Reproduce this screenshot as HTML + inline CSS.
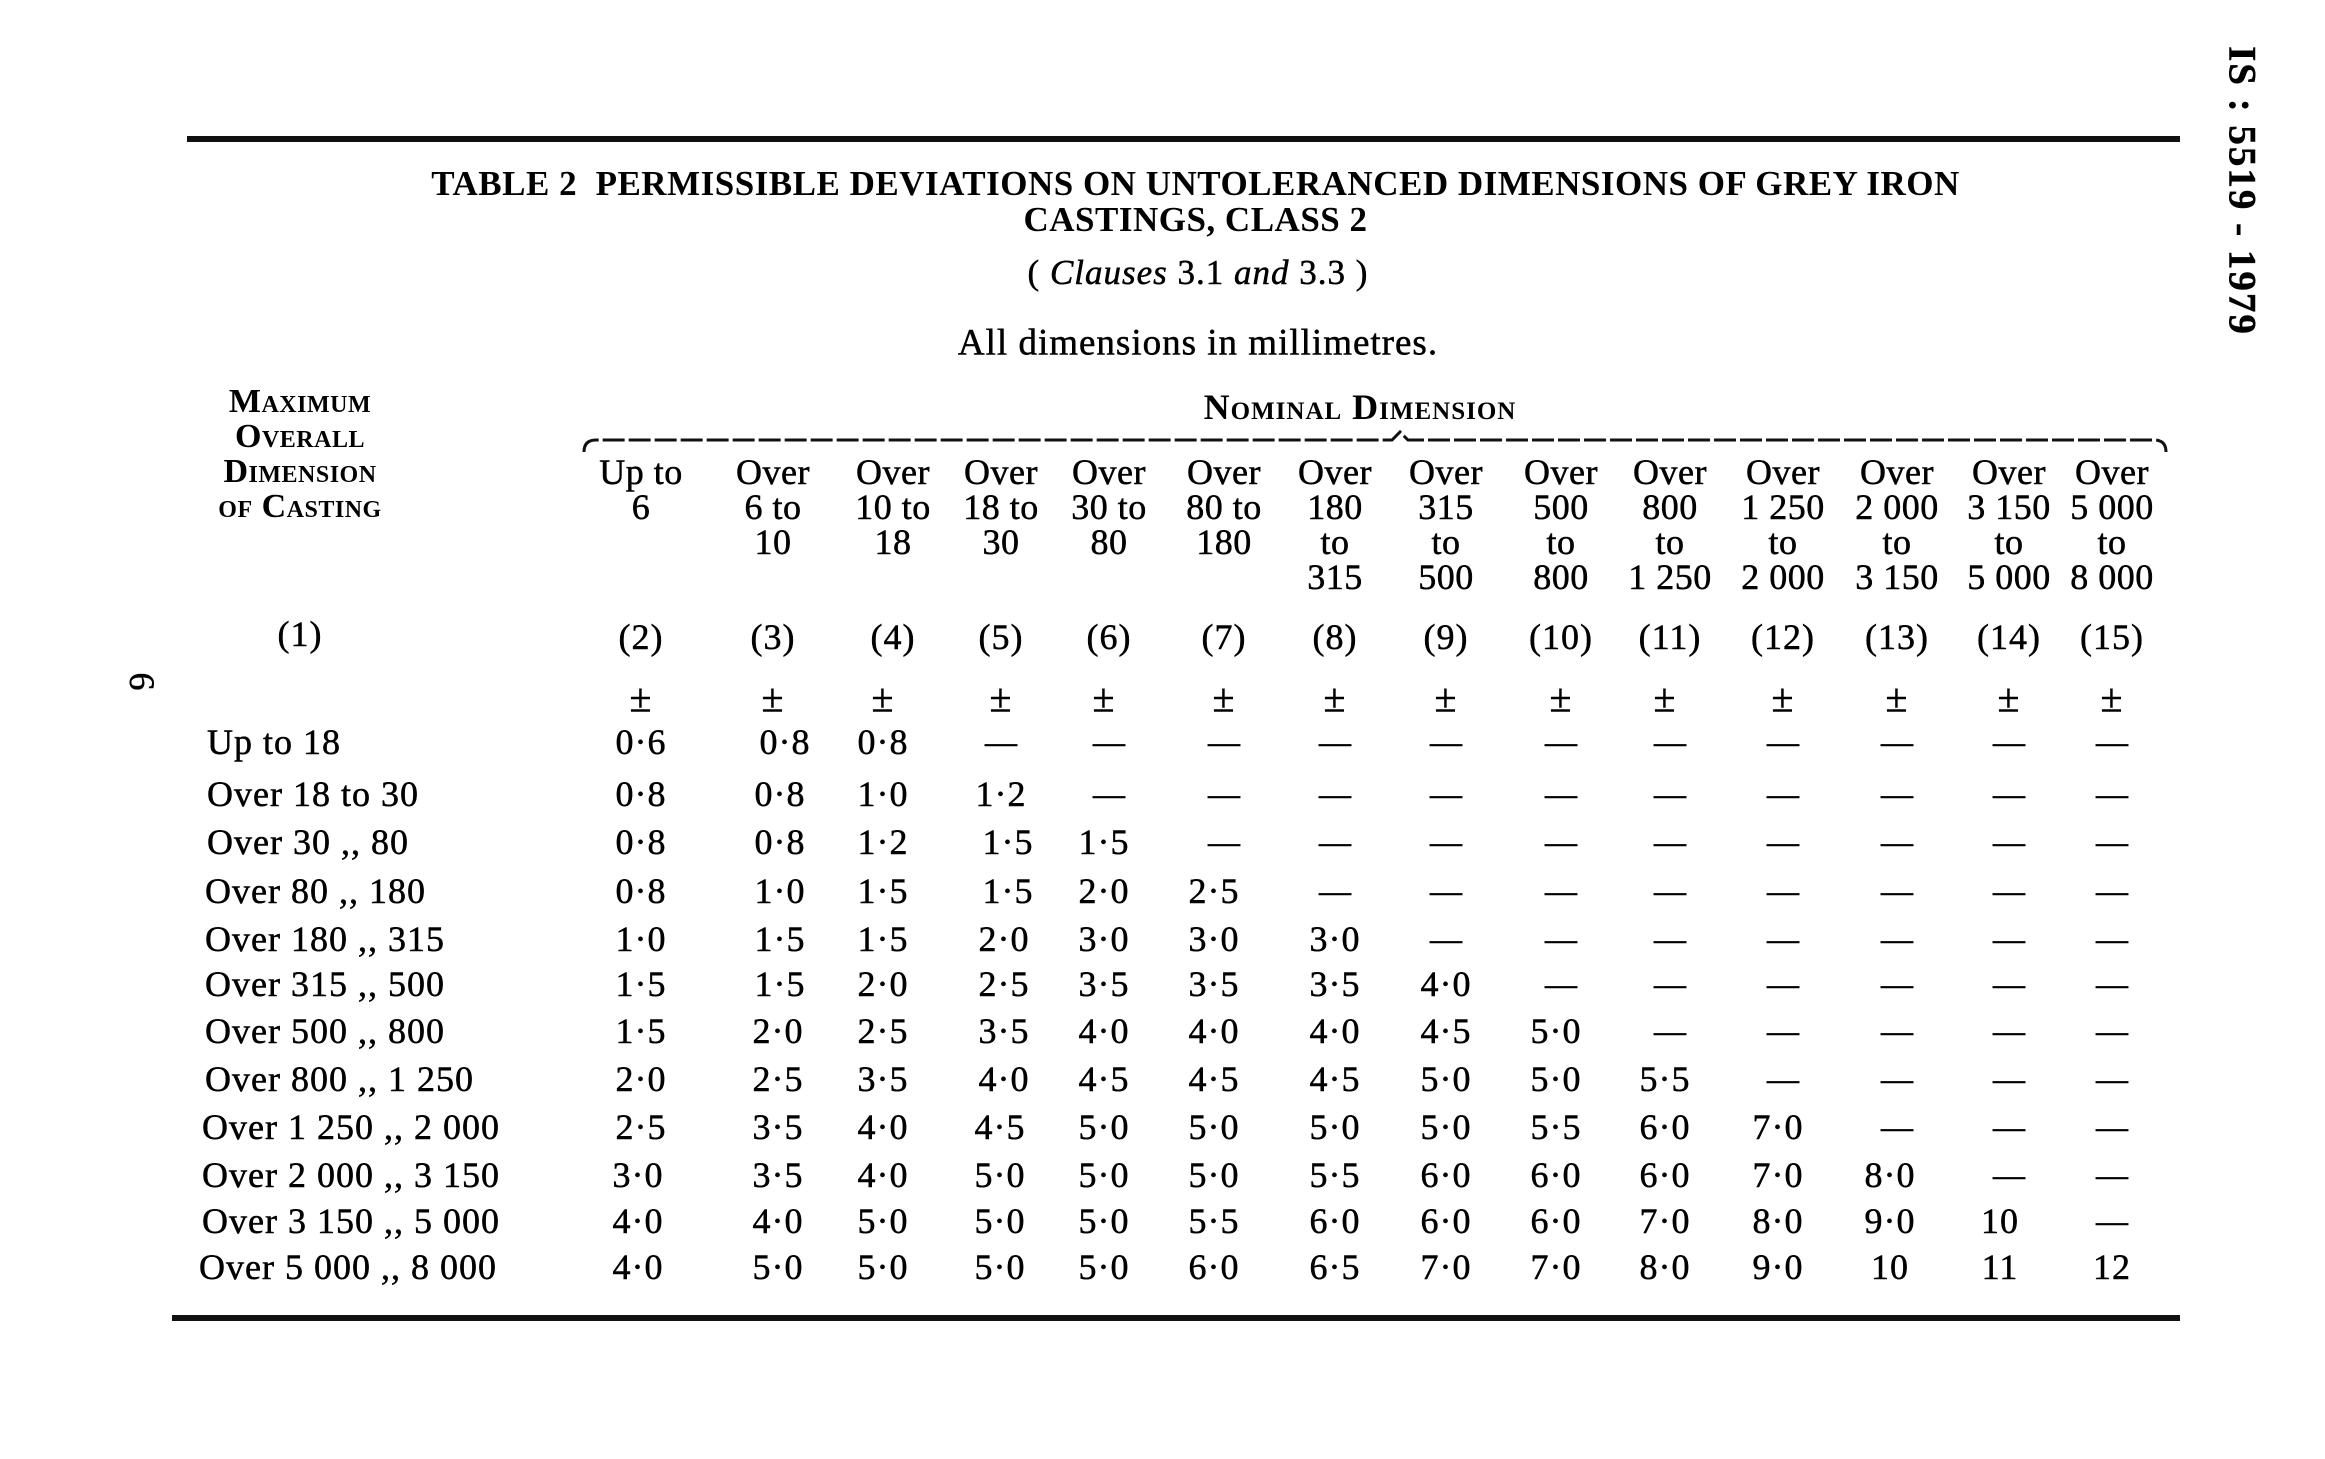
<!DOCTYPE html>
<html><head><meta charset="utf-8"><style>
body{margin:0;width:2325px;height:1459px;background:#fff;position:relative;overflow:hidden;font-family:"Liberation Serif",serif;color:#000}
.a{position:absolute;white-space:nowrap}
.c{position:absolute;transform:translate(-50%,-50%);white-space:nowrap;font-size:36px;letter-spacing:1px;text-align:center;-webkit-text-stroke:0.5px #000}
.l{position:absolute;transform:translateY(-50%);white-space:nowrap;font-size:36px;letter-spacing:1px;-webkit-text-stroke:0.5px #000}
.h{position:absolute;transform:translateX(-50%);font-size:36px;letter-spacing:0.5px;line-height:35px;text-align:center;white-space:nowrap;-webkit-text-stroke:0.5px #000}
.sc{font-variant:small-caps;font-weight:bold;-webkit-text-stroke:0}
.d{font-size:32px;letter-spacing:0}
</style></head><body>
<div class="a" style="left:187px;top:136px;width:1993px;height:6px;background:#111"></div>
<div class="a" style="left:172px;top:1315px;width:2008px;height:6px;background:#111"></div>
<div class="a" style="left:340px;top:166px;width:1711px;text-align:center;font-weight:bold;font-size:35px;line-height:36px;white-space:normal;letter-spacing:0.5px">TABLE 2&nbsp; PERMISSIBLE DEVIATIONS ON UNTOLERANCED DIMENSIONS OF GREY IRON CASTINGS, CLASS 2</div>
<div class="c" style="left:1198px;top:273px;font-size:35px">( <i>Clauses</i> 3.1 <i>and</i> 3.3 )</div>
<div class="c" style="left:1198px;top:343px;font-size:37px">All dimensions in millimetres.</div>
<div class="h sc" style="left:300px;top:384px;font-size:34px">Maximum<br>Overall<br>Dimension<br>of Casting</div>
<div class="c sc" style="left:1360px;top:407px;font-size:36px">Nominal Dimension</div>
<svg class="a" style="left:580px;top:428px" width="1590" height="30"><path d="M4 24 Q4 12 16 12 L812 12 L820 4 L828 12 L1574 12 Q1586 12 1586 24" fill="none" stroke="#111" stroke-width="3" stroke-dasharray="22 4"/></svg>
<div class="h" style="left:641px;top:455px">Up to<br>6</div>
<div class="h" style="left:773px;top:455px">Over<br>6 to<br>10</div>
<div class="h" style="left:893px;top:455px">Over<br>10 to<br>18</div>
<div class="h" style="left:1001px;top:455px">Over<br>18 to<br>30</div>
<div class="h" style="left:1109px;top:455px">Over<br>30 to<br>80</div>
<div class="h" style="left:1224px;top:455px">Over<br>80 to<br>180</div>
<div class="h" style="left:1335px;top:455px">Over<br>180<br>to<br>315</div>
<div class="h" style="left:1446px;top:455px">Over<br>315<br>to<br>500</div>
<div class="h" style="left:1561px;top:455px">Over<br>500<br>to<br>800</div>
<div class="h" style="left:1670px;top:455px">Over<br>800<br>to<br>1 250</div>
<div class="h" style="left:1783px;top:455px">Over<br>1 250<br>to<br>2 000</div>
<div class="h" style="left:1897px;top:455px">Over<br>2 000<br>to<br>3 150</div>
<div class="h" style="left:2009px;top:455px">Over<br>3 150<br>to<br>5 000</div>
<div class="h" style="left:2112px;top:455px">Over<br>5 000<br>to<br>8 000</div>
<div class="c" style="left:300px;top:634px">(1)</div>
<div class="c" style="left:641px;top:637px">(2)</div><div class="c" style="left:773px;top:637px">(3)</div><div class="c" style="left:893px;top:637px">(4)</div><div class="c" style="left:1001px;top:637px">(5)</div><div class="c" style="left:1109px;top:637px">(6)</div><div class="c" style="left:1224px;top:637px">(7)</div><div class="c" style="left:1335px;top:637px">(8)</div><div class="c" style="left:1446px;top:637px">(9)</div><div class="c" style="left:1561px;top:637px">(10)</div><div class="c" style="left:1670px;top:637px">(11)</div><div class="c" style="left:1783px;top:637px">(12)</div><div class="c" style="left:1897px;top:637px">(13)</div><div class="c" style="left:2009px;top:637px">(14)</div><div class="c" style="left:2112px;top:637px">(15)</div>
<div class="c" style="left:641px;top:698px;font-size:40px">±</div><div class="c" style="left:773px;top:698px;font-size:40px">±</div><div class="c" style="left:883px;top:698px;font-size:40px">±</div><div class="c" style="left:1001px;top:698px;font-size:40px">±</div><div class="c" style="left:1104px;top:698px;font-size:40px">±</div><div class="c" style="left:1224px;top:698px;font-size:40px">±</div><div class="c" style="left:1335px;top:698px;font-size:40px">±</div><div class="c" style="left:1446px;top:698px;font-size:40px">±</div><div class="c" style="left:1561px;top:698px;font-size:40px">±</div><div class="c" style="left:1665px;top:698px;font-size:40px">±</div><div class="c" style="left:1783px;top:698px;font-size:40px">±</div><div class="c" style="left:1897px;top:698px;font-size:40px">±</div><div class="c" style="left:2009px;top:698px;font-size:40px">±</div><div class="c" style="left:2112px;top:698px;font-size:40px">±</div>

<div class="l" style="left:207px;top:742px">Up to 18</div>
<div class="l" style="left:207px;top:794px">Over 18 to 30</div>
<div class="l" style="left:207px;top:842px">Over 30 ,, 80</div>
<div class="l" style="left:205px;top:891px">Over 80 ,, 180</div>
<div class="l" style="left:205px;top:939px">Over 180 ,, 315</div>
<div class="l" style="left:205px;top:984px">Over 315 ,, 500</div>
<div class="l" style="left:205px;top:1031px">Over 500 ,, 800</div>
<div class="l" style="left:205px;top:1079px">Over 800 ,, 1 250</div>
<div class="l" style="left:202px;top:1127px">Over 1 250 ,, 2 000</div>
<div class="l" style="left:202px;top:1175px">Over 2 000 ,, 3 150</div>
<div class="l" style="left:202px;top:1221px">Over 3 150 ,, 5 000</div>
<div class="l" style="left:199px;top:1267px">Over 5 000 ,, 8 000</div>

<div class="c" style="left:641px;top:742px">0·6</div><div class="c" style="left:785px;top:742px">0·8</div><div class="c" style="left:883px;top:742px">0·8</div><div class="c d" style="left:1001px;top:742px">—</div><div class="c d" style="left:1109px;top:742px">—</div><div class="c d" style="left:1224px;top:742px">—</div><div class="c d" style="left:1335px;top:742px">—</div><div class="c d" style="left:1446px;top:742px">—</div><div class="c d" style="left:1561px;top:742px">—</div><div class="c d" style="left:1670px;top:742px">—</div><div class="c d" style="left:1783px;top:742px">—</div><div class="c d" style="left:1897px;top:742px">—</div><div class="c d" style="left:2009px;top:742px">—</div><div class="c d" style="left:2112px;top:742px">—</div>

<div class="c" style="left:641px;top:794px">0·8</div><div class="c" style="left:780px;top:794px">0·8</div><div class="c" style="left:883px;top:794px">1·0</div><div class="c" style="left:1001px;top:794px">1·2</div><div class="c d" style="left:1109px;top:794px">—</div><div class="c d" style="left:1224px;top:794px">—</div><div class="c d" style="left:1335px;top:794px">—</div><div class="c d" style="left:1446px;top:794px">—</div><div class="c d" style="left:1561px;top:794px">—</div><div class="c d" style="left:1670px;top:794px">—</div><div class="c d" style="left:1783px;top:794px">—</div><div class="c d" style="left:1897px;top:794px">—</div><div class="c d" style="left:2009px;top:794px">—</div><div class="c d" style="left:2112px;top:794px">—</div>

<div class="c" style="left:641px;top:842px">0·8</div><div class="c" style="left:780px;top:842px">0·8</div><div class="c" style="left:883px;top:842px">1·2</div><div class="c" style="left:1008px;top:842px">1·5</div><div class="c" style="left:1104px;top:842px">1·5</div><div class="c d" style="left:1224px;top:842px">—</div><div class="c d" style="left:1335px;top:842px">—</div><div class="c d" style="left:1446px;top:842px">—</div><div class="c d" style="left:1561px;top:842px">—</div><div class="c d" style="left:1670px;top:842px">—</div><div class="c d" style="left:1783px;top:842px">—</div><div class="c d" style="left:1897px;top:842px">—</div><div class="c d" style="left:2009px;top:842px">—</div><div class="c d" style="left:2112px;top:842px">—</div>

<div class="c" style="left:641px;top:891px">0·8</div><div class="c" style="left:780px;top:891px">1·0</div><div class="c" style="left:883px;top:891px">1·5</div><div class="c" style="left:1008px;top:891px">1·5</div><div class="c" style="left:1104px;top:891px">2·0</div><div class="c" style="left:1214px;top:891px">2·5</div><div class="c d" style="left:1335px;top:891px">—</div><div class="c d" style="left:1446px;top:891px">—</div><div class="c d" style="left:1561px;top:891px">—</div><div class="c d" style="left:1670px;top:891px">—</div><div class="c d" style="left:1783px;top:891px">—</div><div class="c d" style="left:1897px;top:891px">—</div><div class="c d" style="left:2009px;top:891px">—</div><div class="c d" style="left:2112px;top:891px">—</div>

<div class="c" style="left:641px;top:939px">1·0</div><div class="c" style="left:780px;top:939px">1·5</div><div class="c" style="left:883px;top:939px">1·5</div><div class="c" style="left:1004px;top:939px">2·0</div><div class="c" style="left:1104px;top:939px">3·0</div><div class="c" style="left:1214px;top:939px">3·0</div><div class="c" style="left:1335px;top:939px">3·0</div><div class="c d" style="left:1446px;top:939px">—</div><div class="c d" style="left:1561px;top:939px">—</div><div class="c d" style="left:1670px;top:939px">—</div><div class="c d" style="left:1783px;top:939px">—</div><div class="c d" style="left:1897px;top:939px">—</div><div class="c d" style="left:2009px;top:939px">—</div><div class="c d" style="left:2112px;top:939px">—</div>

<div class="c" style="left:641px;top:984px">1·5</div><div class="c" style="left:780px;top:984px">1·5</div><div class="c" style="left:883px;top:984px">2·0</div><div class="c" style="left:1004px;top:984px">2·5</div><div class="c" style="left:1104px;top:984px">3·5</div><div class="c" style="left:1214px;top:984px">3·5</div><div class="c" style="left:1335px;top:984px">3·5</div><div class="c" style="left:1446px;top:984px">4·0</div><div class="c d" style="left:1561px;top:984px">—</div><div class="c d" style="left:1670px;top:984px">—</div><div class="c d" style="left:1783px;top:984px">—</div><div class="c d" style="left:1897px;top:984px">—</div><div class="c d" style="left:2009px;top:984px">—</div><div class="c d" style="left:2112px;top:984px">—</div>

<div class="c" style="left:641px;top:1031px">1·5</div><div class="c" style="left:778px;top:1031px">2·0</div><div class="c" style="left:883px;top:1031px">2·5</div><div class="c" style="left:1004px;top:1031px">3·5</div><div class="c" style="left:1104px;top:1031px">4·0</div><div class="c" style="left:1214px;top:1031px">4·0</div><div class="c" style="left:1335px;top:1031px">4·0</div><div class="c" style="left:1446px;top:1031px">4·5</div><div class="c" style="left:1556px;top:1031px">5·0</div><div class="c d" style="left:1670px;top:1031px">—</div><div class="c d" style="left:1783px;top:1031px">—</div><div class="c d" style="left:1897px;top:1031px">—</div><div class="c d" style="left:2009px;top:1031px">—</div><div class="c d" style="left:2112px;top:1031px">—</div>

<div class="c" style="left:641px;top:1079px">2·0</div><div class="c" style="left:778px;top:1079px">2·5</div><div class="c" style="left:883px;top:1079px">3·5</div><div class="c" style="left:1004px;top:1079px">4·0</div><div class="c" style="left:1104px;top:1079px">4·5</div><div class="c" style="left:1214px;top:1079px">4·5</div><div class="c" style="left:1335px;top:1079px">4·5</div><div class="c" style="left:1446px;top:1079px">5·0</div><div class="c" style="left:1556px;top:1079px">5·0</div><div class="c" style="left:1665px;top:1079px">5·5</div><div class="c d" style="left:1783px;top:1079px">—</div><div class="c d" style="left:1897px;top:1079px">—</div><div class="c d" style="left:2009px;top:1079px">—</div><div class="c d" style="left:2112px;top:1079px">—</div>

<div class="c" style="left:641px;top:1127px">2·5</div><div class="c" style="left:778px;top:1127px">3·5</div><div class="c" style="left:883px;top:1127px">4·0</div><div class="c" style="left:1000px;top:1127px">4·5</div><div class="c" style="left:1104px;top:1127px">5·0</div><div class="c" style="left:1214px;top:1127px">5·0</div><div class="c" style="left:1335px;top:1127px">5·0</div><div class="c" style="left:1446px;top:1127px">5·0</div><div class="c" style="left:1556px;top:1127px">5·5</div><div class="c" style="left:1665px;top:1127px">6·0</div><div class="c" style="left:1778px;top:1127px">7·0</div><div class="c d" style="left:1897px;top:1127px">—</div><div class="c d" style="left:2009px;top:1127px">—</div><div class="c d" style="left:2112px;top:1127px">—</div>

<div class="c" style="left:638px;top:1175px">3·0</div><div class="c" style="left:778px;top:1175px">3·5</div><div class="c" style="left:883px;top:1175px">4·0</div><div class="c" style="left:1000px;top:1175px">5·0</div><div class="c" style="left:1104px;top:1175px">5·0</div><div class="c" style="left:1214px;top:1175px">5·0</div><div class="c" style="left:1335px;top:1175px">5·5</div><div class="c" style="left:1446px;top:1175px">6·0</div><div class="c" style="left:1556px;top:1175px">6·0</div><div class="c" style="left:1665px;top:1175px">6·0</div><div class="c" style="left:1778px;top:1175px">7·0</div><div class="c" style="left:1890px;top:1175px">8·0</div><div class="c d" style="left:2009px;top:1175px">—</div><div class="c d" style="left:2112px;top:1175px">—</div>

<div class="c" style="left:638px;top:1221px">4·0</div><div class="c" style="left:778px;top:1221px">4·0</div><div class="c" style="left:883px;top:1221px">5·0</div><div class="c" style="left:1000px;top:1221px">5·0</div><div class="c" style="left:1104px;top:1221px">5·0</div><div class="c" style="left:1214px;top:1221px">5·5</div><div class="c" style="left:1335px;top:1221px">6·0</div><div class="c" style="left:1446px;top:1221px">6·0</div><div class="c" style="left:1556px;top:1221px">6·0</div><div class="c" style="left:1665px;top:1221px">7·0</div><div class="c" style="left:1778px;top:1221px">8·0</div><div class="c" style="left:1890px;top:1221px">9·0</div><div class="c" style="left:2000px;top:1221px">10</div><div class="c d" style="left:2112px;top:1221px">—</div>

<div class="c" style="left:638px;top:1267px">4·0</div><div class="c" style="left:778px;top:1267px">5·0</div><div class="c" style="left:883px;top:1267px">5·0</div><div class="c" style="left:1000px;top:1267px">5·0</div><div class="c" style="left:1104px;top:1267px">5·0</div><div class="c" style="left:1214px;top:1267px">6·0</div><div class="c" style="left:1335px;top:1267px">6·5</div><div class="c" style="left:1446px;top:1267px">7·0</div><div class="c" style="left:1556px;top:1267px">7·0</div><div class="c" style="left:1665px;top:1267px">8·0</div><div class="c" style="left:1778px;top:1267px">9·0</div><div class="c" style="left:1890px;top:1267px">10</div><div class="c" style="left:2000px;top:1267px">11</div><div class="c" style="left:2112px;top:1267px">12</div>

<div class="c" style="left:2242px;top:191px;transform:translate(-50%,-50%) rotate(90deg);font-weight:bold;font-size:39px;letter-spacing:2px">IS : 5519 - 1979</div>
<div class="c" style="left:142px;top:682px;transform:translate(-50%,-50%) rotate(90deg);font-size:36px">6</div>
</body></html>
